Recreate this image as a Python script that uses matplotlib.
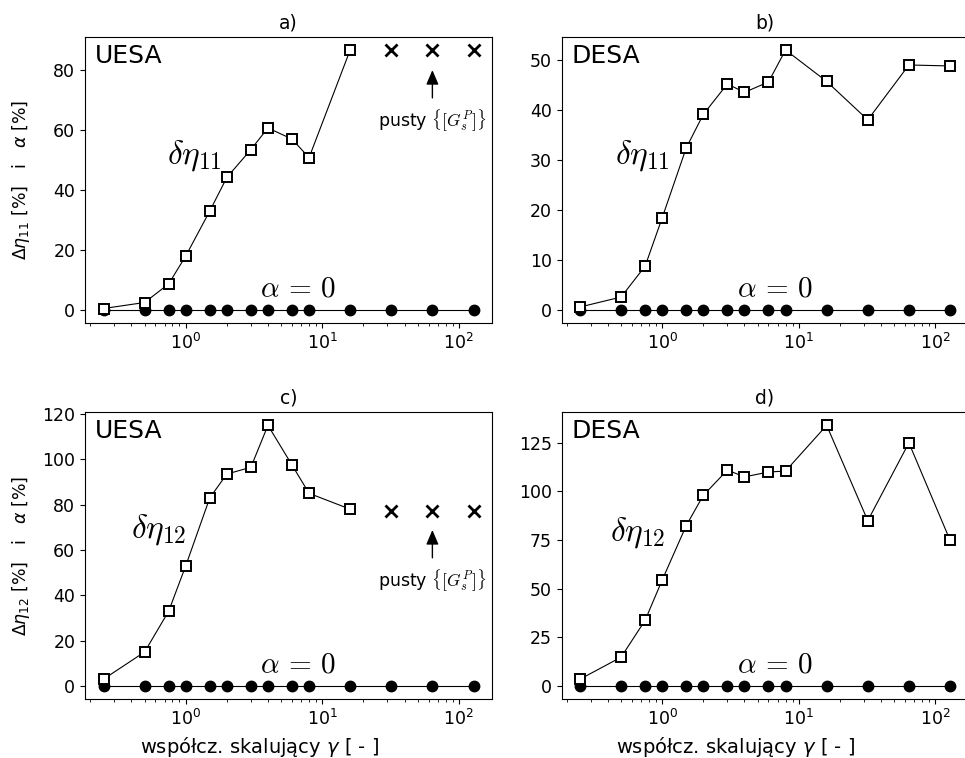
import matplotlib
matplotlib.use("Agg")
import matplotlib.pyplot as plt
from matplotlib.ticker import MultipleLocator

gamma = [0.25, 0.5, 0.75, 1, 1.5, 2, 3, 4, 6, 8, 16, 32, 64, 128]

# a) UESA, delta eta_11 (empty set for last three gammas)
a_sq = [0.5, 2.5, 8.7, 18.0, 33.0, 44.2, 53.5, 60.7, 57.0, 50.8, 86.7]
a_x = [86.7, 86.7, 86.7]
# b) DESA, delta eta_11
b_sq = [0.6, 2.6, 8.8, 18.5, 32.5, 39.2, 45.3, 43.6, 45.7, 52.1, 45.8, 38.1, 49.1, 48.9]
# c) UESA, delta eta_12
c_sq = [3.0, 15.0, 33.0, 53.0, 83.0, 93.5, 96.5, 115.0, 97.5, 85.0, 78.0]
c_x = [77.2, 77.2, 77.2]
# d) DESA, delta eta_12
d_sq = [3.5, 14.8, 33.8, 54.5, 82.5, 98.0, 111.0, 107.5, 110.0, 110.5, 134.0, 85.0, 125.0, 75.0]
alpha = [0] * len(gamma)

titles = ["a)", "b)", "c)", "d)"]
methods = ["UESA", "DESA", "UESA", "DESA"]
delta_labels = [r"$\delta\eta_{\mathsf{11}}$", r"$\delta\eta_{\mathsf{11}}$",
                r"$\delta\eta_{\mathsf{12}}$", r"$\delta\eta_{\mathsf{12}}$"]
ylabels = [r"$\Delta\eta_{11}$ [%]   i   $\alpha$ [%]", None,
           r"$\Delta\eta_{12}$ [%]   i   $\alpha$ [%]", None]
empty_label = r"pusty $\{[G_s^P]\}$"
arrow_tip = [80.0, None, 68.8, None]
y_steps = [20, 10, 20, 25]

W, H = 965, 758
fig = plt.figure(figsize=(W / 100, H / 100), dpi=100)

# pixel boxes: left, top, width, height
boxes = [(85, 37, 407, 286), (561.5, 37, 407, 286),
         (85, 412.3, 407, 286.7), (561.5, 412.3, 407, 286.7)]
axes = []
for (l, t, w, h) in boxes:
    axes.append(fig.add_axes([l / W, 1 - (t + h) / H, w / W, h / H]))

sq_data = [a_sq, b_sq, c_sq, d_sq]
x_data = [a_x, None, c_x, None]
dpos = [(0.27, 0.587), (0.20, 0.587), (0.18, 0.59), (0.188, 0.58)]

for i, ax in enumerate(axes):
    sq = sq_data[i]
    ax.plot(gamma, alpha, color="black", lw=0.8, marker="o", ms=7.5,
            markerfacecolor="black", markeredgecolor="black", zorder=3)
    ax.plot(gamma[:len(sq)], sq, color="black", lw=0.8, marker="s", ms=7,
            markerfacecolor="white", markeredgecolor="black", markeredgewidth=1.4, zorder=4)
    if x_data[i] is not None:
        xs = gamma[len(sq):]
        ax.plot(xs, x_data[i], linestyle="none", marker="x", ms=8.5,
                color="black", markeredgewidth=2, zorder=4)
        ax.annotate(empty_label, xy=(xs[1], arrow_tip[i]),
                    xytext=(0, -27), textcoords="offset points",
                    ha="center", va="top", fontsize=12.5, math_fontfamily="cm",
                    arrowprops=dict(arrowstyle="-|>,head_width=0.3,head_length=0.7",
                                    color="black", lw=1, shrinkA=5, shrinkB=0))
    ax.set_xscale("log")
    ax.yaxis.set_major_locator(MultipleLocator(y_steps[i]))
    ax.set_title(titles[i], fontsize=13.5)
    ax.tick_params(axis="both", labelsize=12.5)
    ax.text(0.025, 0.975, methods[i], transform=ax.transAxes, fontsize=18,
            ha="left", va="top")
    ax.text(dpos[i][0], dpos[i][1], delta_labels[i], transform=ax.transAxes,
            fontsize=24, ha="center", va="center", math_fontfamily="cm")
    ax.text(0.523, 0.119, r"$\alpha\, =\, 0$", transform=ax.transAxes,
            fontsize=21, ha="center", va="center", math_fontfamily="cm")
    if ylabels[i]:
        ax.set_ylabel(ylabels[i], fontsize=12.5)
    if i >= 2:
        ax.set_xlabel(r"współcz. skalujący $\gamma$ [ - ]", fontsize=14)
        ax.xaxis.set_label_coords(0.428, -0.125)

axes[0].yaxis.set_label_coords(-0.13, 0.5)
axes[2].yaxis.set_label_coords(-0.13, 0.5)

fig.savefig("out.png", dpi=100)
